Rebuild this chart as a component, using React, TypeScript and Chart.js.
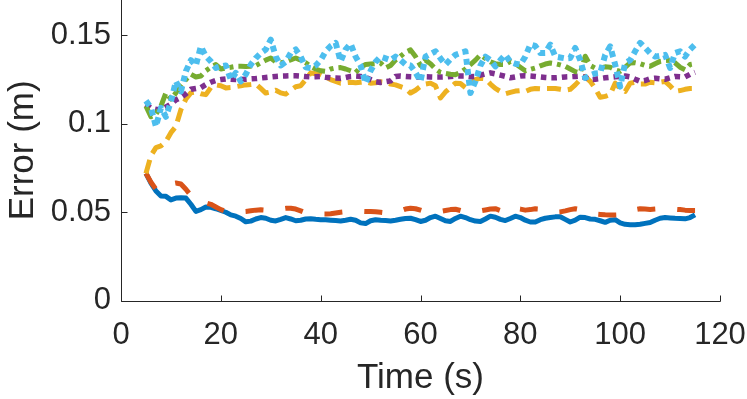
import React, { useEffect, useRef } from "react";
import { Chart, registerables } from "chart.js";

Chart.register(...registerables);

// Time grid (s)
const T_START = 5;

const BLUE = [
  0.0720, 0.0665, 0.0620, 0.0592, 0.0590, 0.0570, 0.0580, 0.0582, 0.0580, 0.0545,
  0.0505, 0.0515, 0.0530, 0.0528, 0.0520, 0.0510, 0.0500, 0.0485, 0.0478, 0.0465,
  0.0446, 0.0450, 0.0462, 0.0470, 0.0466, 0.0455, 0.0451, 0.0460, 0.0470, 0.0462,
  0.0452, 0.0455, 0.0462, 0.0463, 0.0460, 0.0458, 0.0457, 0.0455, 0.0453, 0.0451,
  0.0455, 0.0460, 0.0455, 0.0440, 0.0436, 0.0452, 0.0458, 0.0455, 0.0453, 0.0451,
  0.0455, 0.0460, 0.0465, 0.0466, 0.0458, 0.0448, 0.0455, 0.0470, 0.0478, 0.0465,
  0.0452, 0.0448, 0.0465, 0.0478, 0.0470, 0.0458, 0.0450, 0.0448, 0.0462, 0.0478,
  0.0472, 0.0460, 0.0453, 0.0465, 0.0478, 0.0470, 0.0455, 0.0445, 0.0445, 0.0458,
  0.0466, 0.0470, 0.0474, 0.0475, 0.0460, 0.0445, 0.0455, 0.0472, 0.0470, 0.0462,
  0.0460, 0.0452, 0.0443, 0.0455, 0.0458, 0.0440, 0.0432, 0.0430, 0.0429, 0.0432,
  0.0437, 0.0442, 0.0455, 0.0466, 0.0470, 0.0468, 0.0466, 0.0465, 0.0463, 0.0470,
  0.0485,
];

const ORANGE = [
  0.0720, 0.0670, 0.0630, 0.0625, 0.0645, 0.0660, 0.0665, 0.0660, 0.0630, 0.0595,
  0.0570, 0.0555, 0.0553, 0.0545, 0.0530, 0.0515, 0.0505, 0.0500, 0.0500, 0.0502,
  0.0504, 0.0508, 0.0512, 0.0514, 0.0512, 0.0510, 0.0512, 0.0518, 0.0522, 0.0523,
  0.0518, 0.0508, 0.0497, 0.0494, 0.0492, 0.0490, 0.0490, 0.0492, 0.0496, 0.0500,
  0.0503, 0.0505, 0.0506, 0.0505, 0.0504, 0.0504, 0.0503, 0.0500, 0.0497, 0.0495,
  0.0498, 0.0508, 0.0518, 0.0523, 0.0520, 0.0512, 0.0503, 0.0498, 0.0500, 0.0505,
  0.0510, 0.0515, 0.0517, 0.0510, 0.0502, 0.0500, 0.0503, 0.0508, 0.0513, 0.0518,
  0.0520, 0.0510, 0.0495, 0.0508, 0.0522, 0.0518, 0.0512, 0.0515, 0.0520, 0.0518,
  0.0512, 0.0505, 0.0500, 0.0502, 0.0508, 0.0515, 0.0520, 0.0515, 0.0505, 0.0495,
  0.0490, 0.0488, 0.0486, 0.0485, 0.0485, 0.0486, 0.0495, 0.0505, 0.0515, 0.0520,
  0.0518, 0.0516, 0.0518, 0.0520, 0.0521, 0.0520, 0.0517, 0.0515, 0.0512, 0.0510,
  0.0510,
];

const YELLOW = [
  0.0720, 0.0820, 0.0865, 0.0875, 0.0900, 0.0950, 0.0985, 0.1080, 0.1140, 0.1175,
  0.1180, 0.1170, 0.1165, 0.1205, 0.1220, 0.1215, 0.1203, 0.1205, 0.1210, 0.1215,
  0.1220, 0.1222, 0.1225, 0.1200, 0.1174, 0.1180, 0.1190, 0.1175, 0.1168, 0.1190,
  0.1210, 0.1215, 0.1250, 0.1288, 0.1283, 0.1278, 0.1265, 0.1250, 0.1240, 0.1230,
  0.1232, 0.1235, 0.1232, 0.1235, 0.1238, 0.1230, 0.1232, 0.1238, 0.1235, 0.1225,
  0.1220, 0.1210, 0.1200, 0.1174, 0.1190, 0.1212, 0.1225, 0.1230, 0.1215, 0.1146,
  0.1180, 0.1205, 0.1230, 0.1228, 0.1205, 0.1230, 0.1250, 0.1258, 0.1255, 0.1225,
  0.1200, 0.1183, 0.1170, 0.1178, 0.1185, 0.1188, 0.1183, 0.1195, 0.1200, 0.1198,
  0.1200, 0.1200, 0.1200, 0.1195, 0.1190, 0.1195, 0.1220, 0.1250, 0.1268, 0.1240,
  0.1200, 0.1150, 0.1155, 0.1165, 0.1230, 0.1200, 0.1183, 0.1230, 0.1235, 0.1225,
  0.1225, 0.1235, 0.1232, 0.1235, 0.1240, 0.1215, 0.1183, 0.1188, 0.1195, 0.1200,
  0.1200,
];

const PURPLE = [
  0.1110, 0.1088, 0.1082, 0.1080, 0.1095, 0.1112, 0.1135, 0.1150, 0.1170, 0.1195,
  0.1200, 0.1205, 0.1222, 0.1235, 0.1245, 0.1250, 0.1254, 0.1252, 0.1250, 0.1250,
  0.1252, 0.1254, 0.1256, 0.1259, 0.1262, 0.1265, 0.1268, 0.1270, 0.1271, 0.1272,
  0.1272, 0.1270, 0.1267, 0.1265, 0.1266, 0.1267, 0.1263, 0.1260, 0.1259, 0.1258,
  0.1262, 0.1268, 0.1270, 0.1268, 0.1262, 0.1250, 0.1238, 0.1234, 0.1238, 0.1243,
  0.1268, 0.1270, 0.1268, 0.1266, 0.1265, 0.1265, 0.1266, 0.1265, 0.1264, 0.1264,
  0.1265, 0.1268, 0.1270, 0.1270, 0.1270, 0.1266, 0.1268, 0.1275, 0.1282, 0.1288,
  0.1282, 0.1275, 0.1268, 0.1260, 0.1265, 0.1270, 0.1272, 0.1270, 0.1268, 0.1265,
  0.1262, 0.1260, 0.1260, 0.1262, 0.1265, 0.1266, 0.1268, 0.1270, 0.1262, 0.1250,
  0.1252, 0.1256, 0.1260, 0.1263, 0.1266, 0.1268, 0.1270, 0.1265, 0.1252, 0.1240,
  0.1245, 0.1255, 0.1258, 0.1255, 0.1252, 0.1260, 0.1268, 0.1266, 0.1265, 0.1280,
  0.1291,
];

const GREEN = [
  0.1100, 0.1040, 0.1055, 0.1100, 0.1175, 0.1140, 0.1175, 0.1215, 0.1250, 0.1280,
  0.1265, 0.1270, 0.1300, 0.1320, 0.1335, 0.1310, 0.1316, 0.1320, 0.1325, 0.1325,
  0.1324, 0.1325, 0.1329, 0.1345, 0.1360, 0.1372, 0.1350, 0.1345, 0.1350, 0.1362,
  0.1372, 0.1360, 0.1345, 0.1325, 0.1310, 0.1300, 0.1297, 0.1310, 0.1316, 0.1318,
  0.1310, 0.1300, 0.1290, 0.1320, 0.1335, 0.1338, 0.1340, 0.1344, 0.1316, 0.1330,
  0.1360, 0.1382, 0.1405, 0.1418, 0.1380, 0.1330, 0.1360, 0.1340, 0.1310, 0.1290,
  0.1285, 0.1280, 0.1278, 0.1290, 0.1310, 0.1335, 0.1360, 0.1390, 0.1370, 0.1350,
  0.1340, 0.1335, 0.1335, 0.1353, 0.1340, 0.1320, 0.1300, 0.1308, 0.1316, 0.1328,
  0.1338, 0.1344, 0.1340, 0.1333, 0.1325, 0.1310, 0.1295, 0.1288, 0.1382, 0.1330,
  0.1315, 0.1316, 0.1322, 0.1320, 0.1305, 0.1297, 0.1320, 0.1344, 0.1345, 0.1340,
  0.1330, 0.1325, 0.1340, 0.1353, 0.1358, 0.1360, 0.1345, 0.1320, 0.1306, 0.1335,
  0.1340,
];

const LIGHTBLUE = [
  0.1130, 0.1090, 0.0985, 0.1090, 0.1040, 0.1127, 0.1240, 0.1183, 0.1297, 0.1360,
  0.1330, 0.1438, 0.1382, 0.1353, 0.1316, 0.1325, 0.1330, 0.1250, 0.1288, 0.1240,
  0.1280, 0.1335, 0.1372, 0.1400, 0.1420, 0.1476, 0.1380, 0.1330, 0.1350, 0.1400,
  0.1420, 0.1380, 0.1320, 0.1315, 0.1330, 0.1360, 0.1410, 0.1440, 0.1458, 0.1353,
  0.1420, 0.1453, 0.1380, 0.1330, 0.1230, 0.1300, 0.1350, 0.1380, 0.1370, 0.1360,
  0.1380, 0.1360, 0.1335, 0.1330, 0.1290, 0.1240, 0.1380, 0.1395, 0.1410, 0.1370,
  0.1335, 0.1365, 0.1390, 0.1400, 0.1410, 0.1174, 0.1240, 0.1330, 0.1380, 0.1360,
  0.1325, 0.1360, 0.1390, 0.1350, 0.1340, 0.1335, 0.1380, 0.1448, 0.1440, 0.1400,
  0.1401, 0.1448, 0.1380, 0.1375, 0.1370, 0.1372, 0.1429, 0.1360, 0.1260, 0.1275,
  0.1285, 0.1288, 0.1390, 0.1438, 0.1335, 0.1210, 0.1344, 0.1360, 0.1410, 0.1458,
  0.1430, 0.1400, 0.1380, 0.1385, 0.1390, 0.1316, 0.1400, 0.1410, 0.1380, 0.1420,
  0.1448,
];

const X_TICKS = [0, 20, 40, 60, 80, 100, 120];
const Y_TICKS = [0, 0.05, 0.1, 0.15];
const Y_TICK_LABELS = ["0", "0.05", "0.1", "0.15"];
const X_TITLE = "Time (s)";
const Y_TITLE = "Error (m)";

const AXIS_COLOR = "#262626";
const FONT = "'Liberation Sans', Arial, Helvetica, sans-serif";

const SERIES = [
  { data: BLUE, color: "#0072BD", width: 5, dash: [] as number[] },
  { data: ORANGE, color: "#D95319", width: 5, dash: [18, 22] },
  { data: YELLOW, color: "#EDB120", width: 5, dash: [14, 7] },
  { data: PURPLE, color: "#7E2F8E", width: 5.5, dash: [5.5, 5] },
  { data: GREEN, color: "#77AC30", width: 5, dash: [13, 5, 4, 5] },
  { data: LIGHTBLUE, color: "#4DBEEE", width: 6, dash: [6, 4.5] },
];

const axisPlugin = {
  id: "matlabAxes",
  afterDraw(chart: any) {
    const { ctx, chartArea } = chart;
    const xs = chart.scales.x;
    const ys = chart.scales.y;
    ctx.save();
    ctx.strokeStyle = AXIS_COLOR;
    ctx.lineWidth = 1;
    ctx.setLineDash([]);
    const left = Math.round(chartArea.left) + 0.5;
    const bottom = Math.round(chartArea.bottom) + 0.5;
    const right = Math.round(chartArea.right) + 0.5;
    ctx.beginPath();
    ctx.moveTo(left, Math.round(chartArea.top));
    ctx.lineTo(left, bottom);
    ctx.lineTo(right, bottom);
    ctx.stroke();
    const tl = 6;
    ctx.beginPath();
    for (const v of X_TICKS) {
      const px = Math.round(xs.getPixelForValue(v)) + 0.5;
      ctx.moveTo(px, bottom);
      ctx.lineTo(px, bottom - tl);
    }
    for (const v of Y_TICKS) {
      const py = Math.round(ys.getPixelForValue(v)) + 0.5;
      ctx.moveTo(left, py);
      ctx.lineTo(left + tl, py);
    }
    ctx.stroke();
    ctx.restore();
  },
};

export default function App() {
  const ref = useRef<HTMLCanvasElement | null>(null);

  useEffect(() => {
    if (!ref.current) return;
    const datasets = SERIES.map((s, i) => ({
      label: `Series ${i + 1}`,
      data: s.data.map((v, k) => ({ x: T_START + k, y: v })),
      borderColor: s.color,
      backgroundColor: s.color,
      borderWidth: s.width,
      borderDash: s.dash,
      borderCapStyle: "butt" as const,
      borderJoinStyle: "round" as const,
      pointRadius: 0,
      tension: 0,
      fill: false,
      order: SERIES.length - i,
    }));

    const chart = new Chart(ref.current, {
      type: "line",
      data: { datasets },
      options: {
        animation: false,
        responsive: false,
        devicePixelRatio: 1,
        layout: { padding: { left: 0, right: 27, top: 0, bottom: 0 } },
        plugins: { legend: { display: false }, tooltip: { enabled: false } },
        scales: {
          x: {
            type: "linear",
            min: 0,
            max: 120,
            grid: { display: false, drawTicks: false },
            border: { display: false },
            afterBuildTicks: (scale: any) => {
              scale.ticks = X_TICKS.map((v) => ({ value: v }));
            },
            afterFit: (scale: any) => {
              scale.height = 98.3;
              scale.paddingLeft = 0;
              scale.paddingRight = 0;
            },
            ticks: {
              color: AXIS_COLOR,
              font: { family: FONT, size: 31 },
              padding: 16,
              maxRotation: 0,
              autoSkip: false,
              callback: (v: any) => String(v),
            },
            title: {
              display: true,
              text: X_TITLE,
              color: AXIS_COLOR,
              font: { family: FONT, size: 35, lineHeight: 1.2 },
              padding: { top: 0, bottom: 0 },
            },
          },
          y: {
            type: "linear",
            min: 0,
            max: 0.17,
            grid: { display: false, drawTicks: false },
            border: { display: false },
            afterBuildTicks: (scale: any) => {
              scale.ticks = Y_TICKS.map((v) => ({ value: v }));
            },
            afterFit: (scale: any) => {
              scale.width = 121;
              scale.paddingTop = 0;
              scale.paddingBottom = 0;
            },
            ticks: {
              color: AXIS_COLOR,
              font: { family: FONT, size: 31 },
              padding: 10,
              autoSkip: false,
              includeBounds: false,
              callback: (v: any) => {
                const idx = Y_TICKS.findIndex((t) => Math.abs(t - Number(v)) < 1e-9);
                return idx >= 0 ? Y_TICK_LABELS[idx] : "";
              },
            },
            title: {
              display: true,
              text: Y_TITLE,
              color: AXIS_COLOR,
              font: { family: FONT, size: 35, lineHeight: 1.2 },
              padding: { top: 2, bottom: 0 },
            },
          },
        },
      },
      plugins: [axisPlugin],
    });
    return () => chart.destroy();
  }, []);

  return (
    <div style={{ position: "absolute", left: 0, top: 0, width: 747, height: 399, background: "#fff" }}>
      <canvas ref={ref} width={747} height={399} style={{ width: 747, height: 399, display: "block" }} />
    </div>
  );
}
